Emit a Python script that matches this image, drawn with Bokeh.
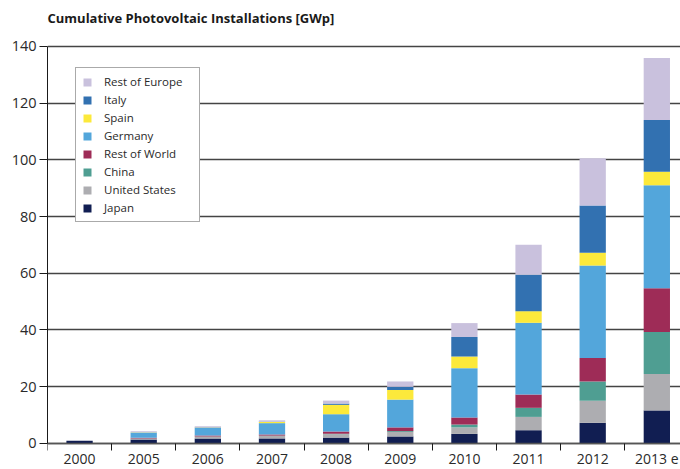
from bokeh.plotting import figure
from bokeh.models import Range1d, FixedTicker, Legend, LegendItem, ColumnDataSource
from bokeh.embed import file_html
from bokeh.resources import INLINE

title_text = "Cumulative Photovoltaic Installations [GWp]"
years = ["2000", "2005", "2006", "2007", "2008", "2009", "2010", "2011", "2012", "2013 e"]
japan = [0.85, 1.3, 1.7, 1.7, 2.0, 2.4, 3.3, 4.6, 7.2, 11.6]
united_states = [0.0, 0.3, 0.6, 0.9, 1.2, 1.6, 2.3, 4.7, 7.8, 12.8]
china = [0.0, 0.1, 0.1, 0.1, 0.15, 0.3, 1.0, 3.2, 6.8, 14.9]
rest_of_world = [0.0, 0.2, 0.3, 0.4, 0.8, 1.3, 2.5, 4.7, 8.3, 15.4]
germany = [0.0, 1.9, 2.8, 4.0, 6.1, 9.8, 17.4, 25.3, 32.6, 36.3]
spain = [0.0, 0.05, 0.1, 0.4, 3.3, 3.4, 4.1, 4.1, 4.5, 4.8]
italy = [0.0, 0.05, 0.05, 0.1, 0.45, 1.1, 6.9, 12.9, 16.7, 18.3]
rest_of_europe = [0.0, 0.3, 0.35, 0.5, 1.05, 1.9, 4.9, 10.5, 16.7, 21.8]

series = ["Japan", "United States", "China", "Rest of World", "Germany", "Spain", "Italy", "Rest of Europe"]
colors = ["#111E52", "#ADADB1", "#4F9E92", "#9E2C57", "#53A6DB", "#FCE93B", "#3271B1", "#C9C1DD"]
y_ticks = [0, 20, 40, 60, 80, 100, 120, 140]

xpos = [i + 0.5 for i in range(len(years))]
data = dict(x=xpos)
for name, vals in zip(series, [japan, united_states, china, rest_of_world, germany, spain, italy, rest_of_europe]):
    data[name] = vals
source = ColumnDataSource(data)

p = figure(width=680, height=469, output_backend="svg", toolbar_location=None,
           x_range=Range1d(0, 9.869), y_range=Range1d(-9.26, 143.17),
           min_border_left=47, min_border_right=0, min_border_top=30, min_border_bottom=0)
p.outline_line_color = None
p.background_fill_color = "white"

renderers = p.vbar_stack(series, x="x", width=0.41, source=source, color=colors, line_color=None)

# title
p.title.text = title_text
p.title.text_font = "Open Sans"
p.title.text_font_size = "13px"
p.title.text_font_style = "bold"
p.title.text_color = "#1a1a1a"
p.title.align = "left"
p.title.vertical_align = "top"
p.title.offset = 0
p.title.standoff = 16.6

# y axis
yax = p.yaxis[0]
yax.ticker = FixedTicker(ticks=y_ticks)
yax.bounds = (0, 140)
yax.axis_line_color = "#1a1a1a"
yax.major_tick_out = 8
yax.major_tick_in = 0
yax.minor_tick_out = 0
yax.minor_tick_in = 0
yax.major_tick_line_color = "#1a1a1a"
yax.major_label_text_font = "Open Sans"
yax.major_label_text_font_size = "14.5px"
yax.major_label_text_color = "#2a2a2a"
yax.major_label_standoff = 3

# x axis, drawn at y = 0
xax = p.xaxis[0]
xax.fixed_location = 0
xax.ticker = FixedTicker(ticks=xpos, minor_ticks=list(range(0, 10)))
xax.major_label_overrides = {x: y for x, y in zip(xpos, years)}
xax.major_tick_out = 0
xax.major_tick_in = 0
xax.minor_tick_out = 7
xax.minor_tick_in = 0
xax.minor_tick_line_color = "#1a1a1a"
xax.axis_line_color = "#555555"
xax.axis_line_width = 1.5
xax.major_label_text_font = "Open Sans"
xax.major_label_text_font_size = "14px"
xax.major_label_text_color = "#2a2a2a"
xax.major_label_standoff = -1

p.xgrid.grid_line_color = None
p.ygrid.ticker = FixedTicker(ticks=y_ticks)
p.ygrid.grid_line_color = "#444444"
p.ygrid.grid_line_width = 1.4

items = [LegendItem(label=name, renderers=[r]) for name, r in zip(series, renderers)][::-1]
legend = Legend(items=items, location=(28, 247))
legend.glyph_width = 10
legend.glyph_height = 10
legend.label_height = 10
legend.label_width = 89
legend.label_standoff = 12
legend.spacing = 3
legend.padding = 6
legend.margin = 0
legend.label_text_font = "Open Sans"
legend.label_text_font_size = "11.5px"
legend.label_text_color = "#2a2a2a"
legend.border_line_color = "#555555"
legend.border_line_width = 1
legend.background_fill_color = "white"
legend.background_fill_alpha = 1
p.add_layout(legend, "center")

open("out.html", "w").write(file_html(p, INLINE))
